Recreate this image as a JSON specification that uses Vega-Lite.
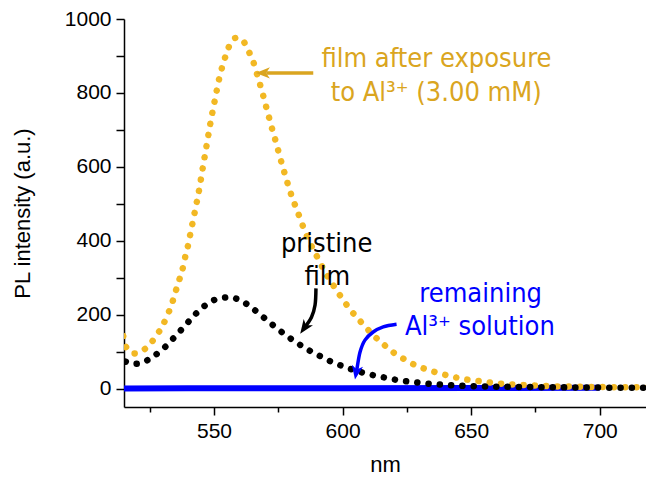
{
  "$schema": "https://vega.github.io/schema/vega-lite/v6.json",
  "width": 522,
  "height": 388,
  "autosize": {"type": "none"},
  "padding": {"left": 124, "top": 19, "right": 0, "bottom": 74},
  "background": "white",
  "config": {
    "view": {"stroke": null},
    "axis": {
      "grid": false,
      "domainColor": "black",
      "domainWidth": 1.5,
      "tickColor": "black",
      "tickWidth": 1.5,
      "labelFont": "Liberation Sans",
      "labelFontSize": 21,
      "labelColor": "black",
      "titleFont": "Liberation Sans",
      "titleFontSize": 22,
      "titleFontWeight": "normal",
      "titleColor": "black"
    }
  },
  "datasets": {
    "film": [
      {"nm": 512, "val": 200}, {"nm": 514.5, "val": 150}, {"nm": 515.4, "val": 117}, {"nm": 519, "val": 95},
      {"nm": 523.3, "val": 108}, {"nm": 527.2, "val": 139}, {"nm": 529.9, "val": 169}, {"nm": 532, "val": 200},
      {"nm": 533.7, "val": 231}, {"nm": 535, "val": 261}, {"nm": 536.4, "val": 292}, {"nm": 537.7, "val": 321},
      {"nm": 538.7, "val": 353}, {"nm": 539.8, "val": 384}, {"nm": 540.7, "val": 415}, {"nm": 542.5, "val": 477},
      {"nm": 544.2, "val": 537}, {"nm": 545.7, "val": 600}, {"nm": 547.2, "val": 661}, {"nm": 548.7, "val": 722},
      {"nm": 550.4, "val": 783}, {"nm": 552.2, "val": 844}, {"nm": 553.4, "val": 875}, {"nm": 554.8, "val": 906},
      {"nm": 556.6, "val": 937}, {"nm": 558.6, "val": 949}, {"nm": 560.8, "val": 945}, {"nm": 563.3, "val": 915},
      {"nm": 565.3, "val": 884}, {"nm": 566.6, "val": 854}, {"nm": 567.9, "val": 823}, {"nm": 569.2, "val": 791},
      {"nm": 570.3, "val": 762}, {"nm": 571.5, "val": 731}, {"nm": 572.7, "val": 700}, {"nm": 574, "val": 669},
      {"nm": 575.2, "val": 638}, {"nm": 576.4, "val": 608}, {"nm": 577.7, "val": 577}, {"nm": 579, "val": 547},
      {"nm": 580.4, "val": 517}, {"nm": 582.1, "val": 486}, {"nm": 583.7, "val": 456}, {"nm": 585.5, "val": 423},
      {"nm": 587.4, "val": 393}, {"nm": 589.7, "val": 362}, {"nm": 591.9, "val": 332}, {"nm": 594.3, "val": 302},
      {"nm": 597.2, "val": 271}, {"nm": 600.3, "val": 239}, {"nm": 603.5, "val": 209}, {"nm": 607.3, "val": 179},
      {"nm": 611.3, "val": 149}, {"nm": 615.7, "val": 121}, {"nm": 620.1, "val": 96}, {"nm": 624.6, "val": 77},
      {"nm": 629, "val": 61}, {"nm": 633.5, "val": 50}, {"nm": 637.9, "val": 41}, {"nm": 642.3, "val": 33},
      {"nm": 646.7, "val": 26}, {"nm": 651.1, "val": 22}, {"nm": 655.5, "val": 18}, {"nm": 660, "val": 14},
      {"nm": 664.3, "val": 12}, {"nm": 668.7, "val": 10}, {"nm": 673.1, "val": 9}, {"nm": 677.5, "val": 7},
      {"nm": 681.9, "val": 6}, {"nm": 690, "val": 5}, {"nm": 700, "val": 4}, {"nm": 710, "val": 3.5}, {"nm": 722, "val": 3}
    ],
    "pristine": [
      {"nm": 512, "val": 90}, {"nm": 515, "val": 75}, {"nm": 517.2, "val": 69}, {"nm": 519.5, "val": 67},
      {"nm": 521.6, "val": 69}, {"nm": 526, "val": 85}, {"nm": 530.3, "val": 108}, {"nm": 534.5, "val": 138},
      {"nm": 538.6, "val": 169}, {"nm": 542.6, "val": 200}, {"nm": 547.2, "val": 228}, {"nm": 551.5, "val": 243},
      {"nm": 555.9, "val": 247}, {"nm": 560.5, "val": 238}, {"nm": 564.8, "val": 218}, {"nm": 569.2, "val": 193},
      {"nm": 573.4, "val": 169}, {"nm": 578, "val": 144}, {"nm": 582.4, "val": 123}, {"nm": 586.8, "val": 104},
      {"nm": 591.2, "val": 88}, {"nm": 595.5, "val": 73}, {"nm": 599.9, "val": 61}, {"nm": 604.4, "val": 50},
      {"nm": 608.8, "val": 41}, {"nm": 613.2, "val": 34}, {"nm": 617.6, "val": 28}, {"nm": 622, "val": 22},
      {"nm": 626.5, "val": 18}, {"nm": 630.9, "val": 15}, {"nm": 635.3, "val": 12}, {"nm": 639.7, "val": 10},
      {"nm": 644.1, "val": 8}, {"nm": 648.5, "val": 7}, {"nm": 652.9, "val": 6}, {"nm": 665, "val": 4.5},
      {"nm": 680, "val": 3.5}, {"nm": 700, "val": 2.5}, {"nm": 722, "val": 2}
    ],
    "solution": [
      {"nm": 505, "val": 0}, {"nm": 540, "val": 0.5}, {"nm": 560, "val": 1}, {"nm": 600, "val": 1},
      {"nm": 650, "val": 1.5}, {"nm": 700, "val": 2}
    ],
    "labelsFilm": [
      {"nm": 636.5, "val": 871, "label": "film after exposure"},
      {"nm": 636.4, "val": 777, "label": "to Al³⁺ (3.00 mM)"}
    ],
    "labelsPristine": [
      {"nm": 593.8, "val": 370, "label": "pristine"},
      {"nm": 594.1, "val": 280, "label": "film"}
    ],
    "labelsSolution": [
      {"nm": 653.7, "val": 235, "label": "remaining"},
      {"nm": 653.4, "val": 144, "label": "Al³⁺ solution"}
    ],
    "arrowFilm": [
      {"nm": 588.6, "val": 854, "step": 1}, {"nm": 570.3, "val": 854, "step": 2}
    ],
    "headFilm": [{"nm": 569.0, "val": 854}],
    "arrowPristine": [
      {"nm": 589.65, "val": 271, "step": 1}, {"nm": 589.3, "val": 226, "step": 2},
      {"nm": 587.9, "val": 193, "step": 3}, {"nm": 585.1, "val": 164, "step": 4}
    ],
    "headPristine": [{"nm": 585.1, "val": 164}],
    "arrowSolution": [
      {"nm": 621.0, "val": 174, "step": 1}, {"nm": 615.8, "val": 167, "step": 2},
      {"nm": 611.9, "val": 153, "step": 3}, {"nm": 608.7, "val": 131, "step": 4},
      {"nm": 606.8, "val": 99, "step": 5}, {"nm": 605.7, "val": 58, "step": 6},
      {"nm": 605.3, "val": 43, "step": 7}
    ],
    "headSolution": [{"nm": 605.3, "val": 43}]
  },
  "encoding": {
    "x": {
      "field": "nm",
      "type": "quantitative",
      "scale": {"domain": [515, 718], "nice": false, "zero": false},
      "axis": {
        "title": "nm",
        "values": [525, 550, 575, 600, 625, 650, 675, 700],
        "format": "d",
        "labelExpr": "datum.value % 50 === 0 ? datum.label : ''",
        "tickSize": {"condition": {"test": "datum.value % 50 === 0", "value": 8}, "value": 5},
        "labelPadding": 5,
        "titlePadding": 13
      }
    },
    "y": {
      "field": "val",
      "type": "quantitative",
      "scale": {"domain": [-50, 1000], "nice": false, "zero": false},
      "axis": {
        "title": "PL intensity (a.u.)",
        "values": [0, 100, 200, 300, 400, 500, 600, 700, 800, 900, 1000],
        "format": "d",
        "labelExpr": "datum.value % 200 === 0 ? datum.label : ''",
        "tickSize": 8,
        "labelPadding": 5,
        "titlePadding": 30
      }
    }
  },
  "layer": [
    {
      "data": {"name": "solution"},
      "mark": {"type": "line", "color": "#0000FF", "strokeWidth": 6, "clip": true}
    },
    {
      "data": {"name": "film"},
      "mark": {"type": "line", "color": "#F2B824", "strokeWidth": 6.5, "strokeCap": "round", "strokeDash": [0.1, 11.2], "clip": true, "interpolate": "monotone"}
    },
    {
      "data": {"name": "pristine"},
      "mark": {"type": "line", "color": "#000000", "strokeWidth": 6.5, "strokeCap": "round", "strokeDash": [0.1, 11.2], "clip": true, "interpolate": "monotone"}
    },
    {
      "data": {"name": "arrowFilm"},
      "mark": {"type": "line", "color": "#DAA520", "strokeWidth": 3.5},
      "encoding": {"order": {"field": "step", "type": "quantitative"}}
    },
    {
      "data": {"name": "headFilm"},
      "mark": {"type": "point", "shape": "M 1 0 L -1 -0.8 L -0.45 0 L -1 0.8 Z", "filled": true, "color": "#DAA520", "size": 200, "angle": 180, "opacity": 1}
    },
    {
      "data": {"name": "arrowPristine"},
      "mark": {"type": "line", "color": "#000000", "strokeWidth": 3.5, "interpolate": "cardinal"},
      "encoding": {"order": {"field": "step", "type": "quantitative"}}
    },
    {
      "data": {"name": "headPristine"},
      "mark": {"type": "point", "shape": "M 1 0 L -1 -0.8 L -0.45 0 L -1 0.8 Z", "filled": true, "color": "#000000", "size": 200, "angle": 125, "opacity": 1}
    },
    {
      "data": {"name": "arrowSolution"},
      "mark": {"type": "line", "color": "#0000FF", "strokeWidth": 3.5, "interpolate": "cardinal"},
      "encoding": {"order": {"field": "step", "type": "quantitative"}}
    },
    {
      "data": {"name": "headSolution"},
      "mark": {"type": "point", "shape": "M 1 0 L -1 -0.8 L -0.45 0 L -1 0.8 Z", "filled": true, "color": "#0000FF", "size": 200, "angle": 100, "opacity": 1}
    },
    {
      "data": {"name": "labelsFilm"},
      "mark": {"type": "text", "font": "DejaVu Sans Condensed", "fontSize": 27, "color": "#DAA520", "align": "center", "baseline": "alphabetic"},
      "encoding": {"text": {"field": "label"}}
    },
    {
      "data": {"name": "labelsPristine"},
      "mark": {"type": "text", "font": "DejaVu Sans Condensed", "fontSize": 27, "color": "#000000", "align": "center", "baseline": "alphabetic"},
      "encoding": {"text": {"field": "label"}}
    },
    {
      "data": {"name": "labelsSolution"},
      "mark": {"type": "text", "font": "DejaVu Sans Condensed", "fontSize": 27, "color": "#0000FF", "align": "center", "baseline": "alphabetic"},
      "encoding": {"text": {"field": "label"}}
    }
  ]
}
